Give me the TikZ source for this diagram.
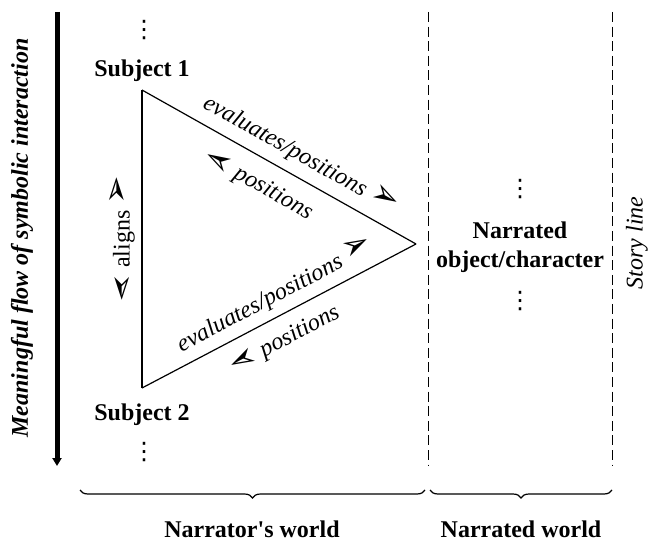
\documentclass[tikz,border=0pt]{standalone}
\usepackage{fontspec}
\setmainfont{Liberation Serif}
\newfontfamily\dejavu{DejaVu Sans}
\usetikzlibrary{arrows.meta,decorations.pathreplacing}

\newcommand\tipR{\raisebox{0.2ex}{\dejavu\fontsize{17}{17}\selectfont ➢}}
\newcommand\tipL{\rotatebox[origin=c]{180}{\tipR}}
\newcommand\moredots{{\dejavu\fontsize{12}{12}\selectfont ⋮}}

\tikzset{
  txt/.style={font=\fontsize{12}{14.5}\selectfont},
  ital/.style={txt,font=\fontsize{12}{14.5}\selectfont\itshape},
  bold/.style={font=\fontsize{12}{14.5}\selectfont\bfseries},
  edgeline/.style={line width=0.6pt},
  divider/.style={line width=0.5pt,dash pattern=on 5pt off 2.3pt},
  worldbrace/.style={line width=0.6pt,decorate,
    decoration={brace,mirror,amplitude=4pt}}
}

\begin{document}
\begin{tikzpicture}[x=0.5pt,y=-0.5pt]
  \useasboundingbox (0,0) rectangle (665,540);

  % flow of interaction
  \coordinate (flowtop) at (57,12);
  \coordinate (flowend) at (57,466);
  \draw[line width=2.5pt,-{Triangle[width=4.5pt,length=4pt]}] (flowtop) -- (flowend);
  \node[bold,font=\fontsize{12}{14.5}\selectfont\bfseries\itshape,rotate=90] (flow) at (22,238)
    {Meaningful flow of symbolic interaction};

  % subjects
  \node[txt] (dotsA) at (144,30) {\moredots};
  \node[bold,anchor=base] (subj1) at (142,77) {Subject 1};
  \node[bold,anchor=base] (subj2) at (142,420) {Subject 2};
  \node[txt] (dotsB) at (144,452) {\moredots};

  % triangle
  \coordinate (v1) at (142,90);
  \coordinate (v2) at (142,388);
  \coordinate (v3) at (416,244);
  \draw[edgeline] (v1) --
      node[ital,sloped,above=1pt,pos=0.54] (evalA) {evaluates/positions \tipR}
      node[ital,sloped,below=2pt,pos=0.47] (posA) {\tipL\ positions} (v3);
  \draw[edgeline] (v2) --
      node[ital,sloped,above=0.5pt,pos=0.52] (evalB) {evaluates/positions \tipR}
      node[ital,sloped,below=1pt,pos=0.48] (posB) {\tipL\ positions} (v3);
  \draw[edgeline] (v2) --
      node[txt,sloped,above=0pt,pos=0.5] (align) {\tipL\ aligns \tipR} (v1);

  % narrated world
  \node[bold,align=center] (obj) at (520,247) {Narrated\\object/character};
  \node[txt] (dotsC) at (520,189) {\moredots};
  \node[txt] (dotsD) at (520,301) {\moredots};
  \node[ital,rotate=90] (story) at (637,243) {Story line};

  % dividers
  \coordinate (divAtop) at (428,12);
  \coordinate (divAend) at (428,466);
  \coordinate (divBtop) at (612,12);
  \coordinate (divBend) at (612,466);
  \draw[divider] (divAtop) -- (divAend);
  \draw[divider] (divBtop) -- (divBend);

  % worlds
  \coordinate (brAl) at (80,490);
  \coordinate (brAr) at (425,490);
  \coordinate (brBl) at (430,490);
  \coordinate (brBr) at (612,490);
  \draw[worldbrace] (brAl) -- (brAr);
  \draw[worldbrace] (brBl) -- (brBr);
  \node[bold,anchor=base] (narrator) at (252,537) {Narrator\textquotesingle s world};
  \node[bold,anchor=base] (narrated) at (521,537) {Narrated world};
\end{tikzpicture}
\end{document}
